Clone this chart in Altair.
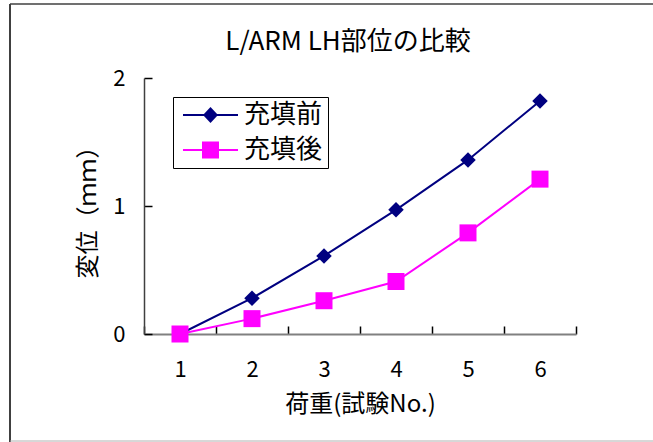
import altair as alt
import pandas as pd

# Test number (load step) and measured displacement in mm
load = [1, 2, 3, 4, 5, 6]
before_fill = [0.0, 0.28, 0.61, 0.97, 1.36, 1.82]
after_fill = [0.0, 0.12, 0.26, 0.41, 0.79, 1.21]
series_names = ["充填前", "充填後"]
series_colors = ["#000080", "#FF00FF"]
y_ticks = [0, 1, 2]
chart_title = ["L/ARM LH部位の比較"]

FONT = "Noto Sans CJK JP"

df = pd.DataFrame(
    {
        "load": load * 2,
        "disp": before_fill + after_fill,
        "series": [series_names[0]] * len(load) + [series_names[1]] * len(load),
    }
)

# legend glyphs: a short line segment with the marker drawn on it (filled paths)
legend_paths = [
    "M-0.667,-0.083H3.917V0.083H-0.667Z M1.625,-0.667L2.25,0L1.625,0.667L1.0,0Z",
    "M-0.667,-0.083H3.917V0.083H-0.667Z M0.917,-0.708H2.333V0.708H0.917Z",
]

x_enc = alt.X(
    "load:O",
    title="荷重(試験No.)",
    scale=alt.Scale(type="band", paddingInner=0, paddingOuter=0),
    axis=alt.Axis(
        labelAngle=0,
        tickBand="extent",
        tickSize={"expr": "-8"},
        labelPadding=33,
        titlePadding=12,
        domainColor="#808080",
        domainWidth=2,
        tickColor="#000000",
        tickWidth=1.5,
    ),
)
y_enc = alt.Y(
    "disp:Q",
    title="変位（ｍｍ）",
    scale=alt.Scale(domain=[0, 2], nice=False),
    axis=alt.Axis(
        values=y_ticks,
        labelExpr="format(datum.value, '.0f')",
        labelOverlap=False,
        tickSize={"expr": "-8"},
        labelPadding=27,
        titlePadding=12,
        domainColor="#404040",
        domainWidth=1.5,
        tickColor="#000000",
        tickWidth=1.5,
        grid=False,
    ),
)
color_scale = alt.Scale(domain=series_names, range=series_colors)

base = alt.Chart(df)

legend_def = alt.Legend(
    title=None,
    orient="none",
    legendX=29,
    legendY=19,
    padding=5,
    strokeColor="#000000",
    fillColor="#FFFFFF",
    symbolSize=576,
    symbolStrokeWidth=0,
    symbolOpacity=1,
    labelFontSize=26,
    labelFont=FONT,
    labelColor="#000000",
    labelOffset=40,
    rowPadding=9,
)

# legend-only layer (no rows pass the filter); carries the shared legend
legend_layer = (
    base.transform_filter("false")
    .mark_point(filled=True, opacity=1)
    .encode(
        color=alt.Color("series:N", scale=color_scale, legend=legend_def),
        shape=alt.Shape(
            "series:N",
            scale=alt.Scale(domain=series_names, range=legend_paths),
            legend=legend_def,
        ),
    )
)

lines = base.mark_line(strokeWidth=2).encode(
    x=x_enc,
    y=y_enc,
    color=alt.Color("series:N", scale=color_scale, legend=None),
)

diamonds = (
    base.transform_filter(alt.datum.series == series_names[0])
    .mark_point(shape="diamond", filled=True, size=240, opacity=1)
    .encode(x=x_enc, y=y_enc, color=alt.Color("series:N", scale=color_scale, legend=None))
)

squares = (
    base.transform_filter(alt.datum.series == series_names[1])
    .mark_point(shape="square", filled=True, size=289, opacity=1)
    .encode(x=x_enc, y=y_enc, color=alt.Color("series:N", scale=color_scale, legend=None))
)

# outer chart frame: dark left/top edges, light bottom edge
frame_data = alt.Data(values=[{}])
frame_left = (
    alt.Chart(frame_data)
    .mark_rule(color="#404040", strokeWidth=2)
    .encode(x=alt.value(-134), y=alt.value(-74), y2=alt.value(364))
)
frame_top = (
    alt.Chart(frame_data)
    .mark_rule(color="#404040", strokeWidth=1.5)
    .encode(x=alt.value(-134), x2=alt.value(520), y=alt.value(-74))
)
frame_bottom = (
    alt.Chart(frame_data)
    .mark_rule(color="#b0b0b0", strokeWidth=1)
    .encode(x=alt.value(-134), x2=alt.value(520), y=alt.value(363))
)

title_text = (
    alt.Chart(alt.Data(values=[{"t": t} for t in chart_title]))
    .mark_text(font=FONT, fontSize=26, color="#000000", align="center", baseline="middle")
    .encode(text="t:N", x=alt.value(204), y=alt.value(-36))
)

chart = (
    alt.layer(legend_layer, frame_left, frame_top, frame_bottom, lines, diamonds, squares, title_text)
    .properties(
        width=432,
        height=256,
        padding={"left": 144, "top": 78, "right": 77, "bottom": 108},
        autosize=alt.AutoSizeParams(type="none"),
        background="white",
    )
    .configure_view(stroke=None)
    .configure_axis(
        labelFont=FONT,
        labelFontSize=22,
        labelColor="#000000",
        titleFont=FONT,
        titleFontSize=24,
        titleFontWeight="normal",
        titleColor="#000000",
        grid=False,
    )
    .configure_legend(strokeWidth=1)
)

chart.save("out.html", embed_options={"renderer": "svg", "actions": False})
